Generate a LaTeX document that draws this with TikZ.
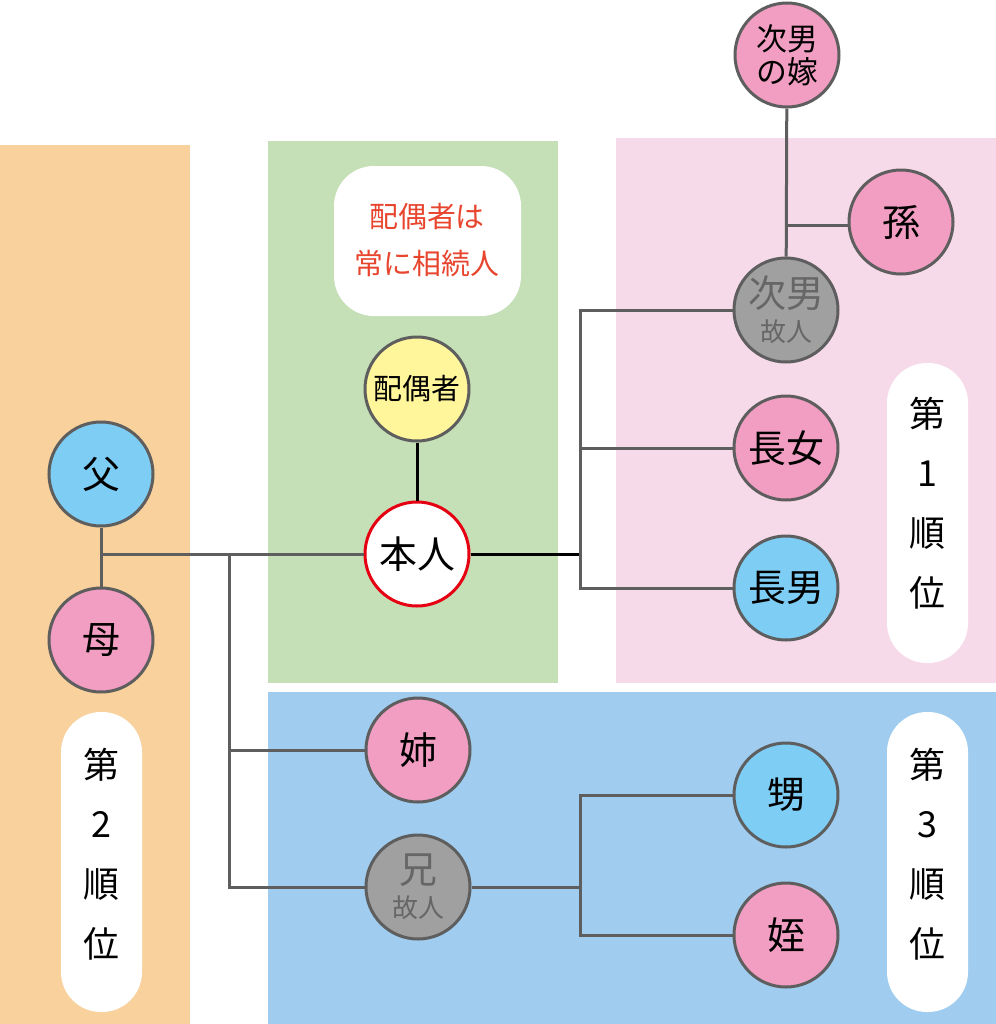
\documentclass[tikz,border=0pt]{standalone}
\usepackage{fontspec}
\newfontfamily\jp{Noto Sans CJK JP}
\definecolor{bgorange}{HTML}{F8D19D}
\definecolor{bggreen}{HTML}{C5DFB7}
\definecolor{bgpink}{HTML}{F7DAE9}
\definecolor{bgblue}{HTML}{A0CDEF}
\definecolor{cpink}{HTML}{F19EC2}
\definecolor{cblue}{HTML}{7DCDF4}
\definecolor{cyellow}{HTML}{FFF59B}
\definecolor{cgray}{HTML}{A0A0A0}
\definecolor{lgray}{HTML}{5E5E5E}
\definecolor{tgray}{HTML}{666666}
\definecolor{tred}{HTML}{E8452E}
\definecolor{bred}{HTML}{E50012}
\begin{document}
\begin{tikzpicture}[x=1bp,y=-1bp,
  person/.style={circle, draw=lgray, line width=3bp, minimum size=104bp, inner sep=0pt, align=center, font=\jp\fontsize{38}{40}\selectfont},
  conn/.style={draw=lgray, line width=3bp},
  blk/.style={draw=black, line width=3bp},
  pill/.style={fill=white, rounded corners=40bp},
  rank/.style={align=center, font=\jp\fontsize{36}{60}\selectfont, inner sep=0pt}
]
\useasboundingbox (0,0) rectangle (996,1024);
% background bands
\fill[bgorange] (0,145) rectangle (190,1024);
\fill[bggreen] (268,141) rectangle (558,683);
\fill[bgpink] (616,138) rectangle (996,683);
\fill[bgblue] (268,692) rectangle (996,1024);
% pills
\fill[pill] (334,166) rectangle (521,316);
\fill[pill] (887,363) rectangle (968,663);
\fill[pill] (61,712) rectangle (142,1012);
\fill[pill] (887,712) rectangle (968,1012);
\node[align=center, text=tred, font=\jp\fontsize{29}{47}\selectfont, inner sep=0pt] (note) at (427,240) {配偶者は\\常に相続人};
\node[rank] (r1) at (927,503) {第\\1\\順\\位};
\node[rank] (r2) at (101,854) {第\\2\\順\\位};
\node[rank] (r3) at (927,854) {第\\3\\順\\位};
% persons
\node[person, fill=cblue] (fa) at (101,474) {父};
\node[person, fill=cpink] (mo) at (101,640) {母};
\node[person, fill=cyellow, font=\jp\fontsize{29}{32}\selectfont] (sp) at (417,389) {配偶者};
\node[person, fill=white, draw=bred] (me) at (417,554) {本人};
\node[person, fill=cpink, font=\jp\fontsize{31}{33}\selectfont] (dil) at (787,55) {次男\\の嫁};
\node[person, fill=cpink] (gc) at (901,222) {孫};
\node[person, fill=cgray, text=tgray] (son2) at (786,310) {次男\\[-6bp]{\fontsize{26}{28}\selectfont 故人}};
\node[person, fill=cpink] (dau1) at (786,448) {長女};
\node[person, fill=cblue] (son1) at (786,588) {長男};
\node[person, fill=cpink] (sis) at (418,750) {姉};
\node[person, fill=cgray, text=tgray] (bro) at (418,887) {兄\\[-6bp]{\fontsize{26}{28}\selectfont 故人}};
\node[person, fill=cblue] (neph) at (786,795) {甥};
\node[person, fill=cpink] (niece) at (786,935) {姪};
% junctions
\coordinate (j1) at (101,554);
\coordinate (j2) at (229,554);
\coordinate (j3) at (580,554);
\coordinate (j4) at (786,225);
\coordinate (j5) at (580,887);
% connectors
\draw[conn] (fa) -- (mo);
\draw[conn] (j1) -- (me.west);
\draw[conn] (j2) |- (sis.west);
\draw[conn] (j2) |- (bro.west);
\draw[blk] (sp) -- (me);
\draw[blk] (me.east) -- (j3);
\draw[conn] (son2.west) -| (j3) |- (son1.west);
\draw[conn] (dau1.west) -- (dau1.west -| j3);
\draw[conn] (dil) -- (son2);
\draw[conn] (j4) -- (gc.west |- j4);
\draw[conn] (bro.east) -- (j5);
\draw[conn] (neph.west) -| (j5) |- (niece.west);
\end{tikzpicture}
\end{document}
